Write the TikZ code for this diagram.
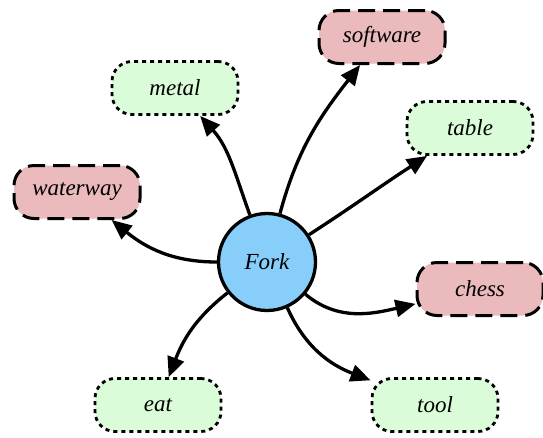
\documentclass[tikz,border=0pt]{standalone}
\usepackage{fontspec}
\setmainfont{Liberation Serif}
\usetikzlibrary{arrows.meta}
\definecolor{boxgreen}{RGB}{218,252,217}
\definecolor{boxred}{RGB}{234,186,188}
\definecolor{hubblue}{RGB}{135,206,250}
\begin{document}
\begin{tikzpicture}[x=1pt,y=-1pt,
  every node/.style={font=\rmfamily\itshape\fontsize{23}{27}\selectfont},
  hub/.style={circle, draw, line width=3.3pt, fill=hubblue, minimum size=97pt, inner sep=0pt},
  redbox/.style={draw, line width=3pt, fill=boxred, rounded corners=20pt, minimum width=126pt, minimum height=53pt, dash pattern=on 17pt off 8pt},
  greenbox/.style={draw, line width=2.8pt, fill=boxgreen, rounded corners=20pt, minimum width=126pt, minimum height=53pt, dash pattern=on 4pt off 4pt},
  link/.style={line width=3.3pt, -{Triangle[length=20pt,width=17pt]}}]
\useasboundingbox (0,0) rectangle (543,437);
\node[hub] (fork) at (267,262) {Fork};
\node[greenbox] (metal) at (175,88) {metal};
\node[redbox] (software) at (382,37) {software};
\node[greenbox] (table) at (470,128) {table};
\node[redbox] (waterway) at (77,192) {waterway};
\node[redbox] (chess) at (480,289) {chess};
\node[greenbox] (eat) at (158,405) {eat};
\node[greenbox] (tool) at (435,405) {tool};
\draw[link] (fork) to[out=110,in=312] (metal);
\draw[link] (fork) to[out=75,in=232] (software);
\draw[link] (fork) to[out=33,in=213] (table);
\draw[link] (fork) to[out=180,in=321] (waterway);
\draw[link] (fork) to[out=-40,in=193] (chess);
\draw[link] (fork) to[out=218,in=69] (eat);
\draw[link] (fork) to[out=-66,in=159] (tool);
\end{tikzpicture}
\end{document}
